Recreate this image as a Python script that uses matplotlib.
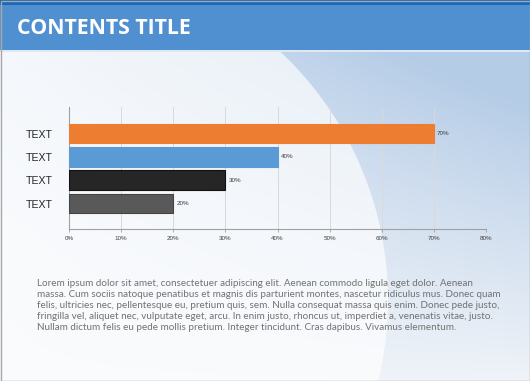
import numpy as np
import matplotlib.pyplot as plt
from matplotlib.patches import Rectangle, Circle

categories = ["TEXT", "TEXT", "TEXT", "TEXT"]
values = [70, 40, 30, 20]
bar_colors = ["#ED7D31", "#5B9BD5", "#262626", "#595959"]
edge_colors = ["#ED7D31", "#5B9BD5", "#111111", "#444444"]
x_ticks = [0, 10, 20, 30, 40, 50, 60, 70, 80]

title = "CONTENTS TITLE"
body_lines = [
    "Lorem ipsum dolor sit amet, consectetuer adipiscing elit. Aenean commodo ligula eget dolor. Aenean",
    "massa. Cum sociis natoque penatibus et magnis dis parturient montes, nascetur ridiculus mus. Donec quam",
    "felis, ultricies nec, pellentesque eu, pretium quis, sem. Nulla consequat massa quis enim. Donec pede justo,",
    "fringilla vel, aliquet nec, vulputate eget, arcu. In enim justo, rhoncus ut, imperdiet a, venenatis vitae, justo.",
    "Nullam dictum felis eu pede mollis pretium. Integer tincidunt. Cras dapibus. Vivamus elementum.",
]

W, H = 530, 381
fig = plt.figure(figsize=(W / 100, H / 100), dpi=100)

# fond en coordonnées pixels
bg = fig.add_axes([0, 0, 1, 1])
bg.set_xlim(0, W)
bg.set_ylim(H, 0)
bg.axis("off")

yy, xx = np.mgrid[0:H, 0:W]
up = 1 - yy / H
t = np.clip(1.05 * (xx / W) * up ** 0.9 + 0.4 * up ** 2, 0, 1)
c0 = np.array([0.94, 0.955, 0.975])
c1 = np.array([0.71, 0.80, 0.905])
img = c0 + (c1 - c0) * t[..., None]
bg.imshow(img, extent=(0, W, H, 0), aspect="auto", zorder=0)

# grand arc blanc à gauche
bg.add_patch(Circle((48, 300), 340, facecolor="white", edgecolor="none", alpha=0.68, zorder=1))

# bandeau titre
bg.add_patch(Rectangle((0, 0), W, 51, facecolor="#5190d0", edgecolor="none", zorder=2))
bg.add_patch(Rectangle((0, 0), W, 5, facecolor="#1a68b8", edgecolor="none", zorder=3))
bg.add_patch(Rectangle((0, 50), W, 2, facecolor="#dce9f5", edgecolor="none", zorder=3))
bg.text(17, 28, title, color="white", fontsize=15.3, fontweight="bold",
        family="Open Sans", va="center", ha="left", zorder=4)

# texte
for i, line in enumerate(body_lines):
    bg.text(37, 283 + i * 11.2, line, color="#727272", fontsize=7.1,
            family="Lato", va="center", ha="left", zorder=4)

# cadre
bg.add_patch(Rectangle((0.5, 0.5), W - 1, H - 1, facecolor="none", edgecolor="#a8a8a8", lw=1, zorder=5))

# graphique
ax = fig.add_axes([69 / W, 1 - 229 / H, 417 / W, 122 / H])
ax.patch.set_alpha(0)
y = np.arange(len(values))
bars = ax.barh(y, values, height=0.84, color=bar_colors, edgecolor=edge_colors, linewidth=0.8, zorder=3)
ax.set_ylim(4.09, -1.14)
ax.set_xlim(0, 80)
ax.set_xticks(x_ticks)
ax.set_xticklabels([f"{v}%" for v in x_ticks], fontsize=4.5, color="#404040", family="Liberation Sans")
ax.set_yticks(y)
ax.set_yticklabels(categories, fontsize=7.6, color="#262626", family="Liberation Sans")
ax.tick_params(axis="y", length=0, pad=11.5)
ax.tick_params(axis="x", length=2, width=0.6, color="#a0a0a0", pad=3)
ax.grid(axis="x", color="#d9d9d9", lw=0.7, zorder=0)
for s in ["top", "right"]:
    ax.spines[s].set_visible(False)
for s in ["left", "bottom"]:
    ax.spines[s].set_color("#a0a0a0")
    ax.spines[s].set_linewidth(0.8)

for b, v in zip(bars, values):
    ax.text(v + 0.6, b.get_y() + b.get_height() / 2, f"{v}%", fontsize=4.5,
            color="#404040", va="center", ha="left", family="Liberation Sans")

fig.savefig("out.png", dpi=100)
